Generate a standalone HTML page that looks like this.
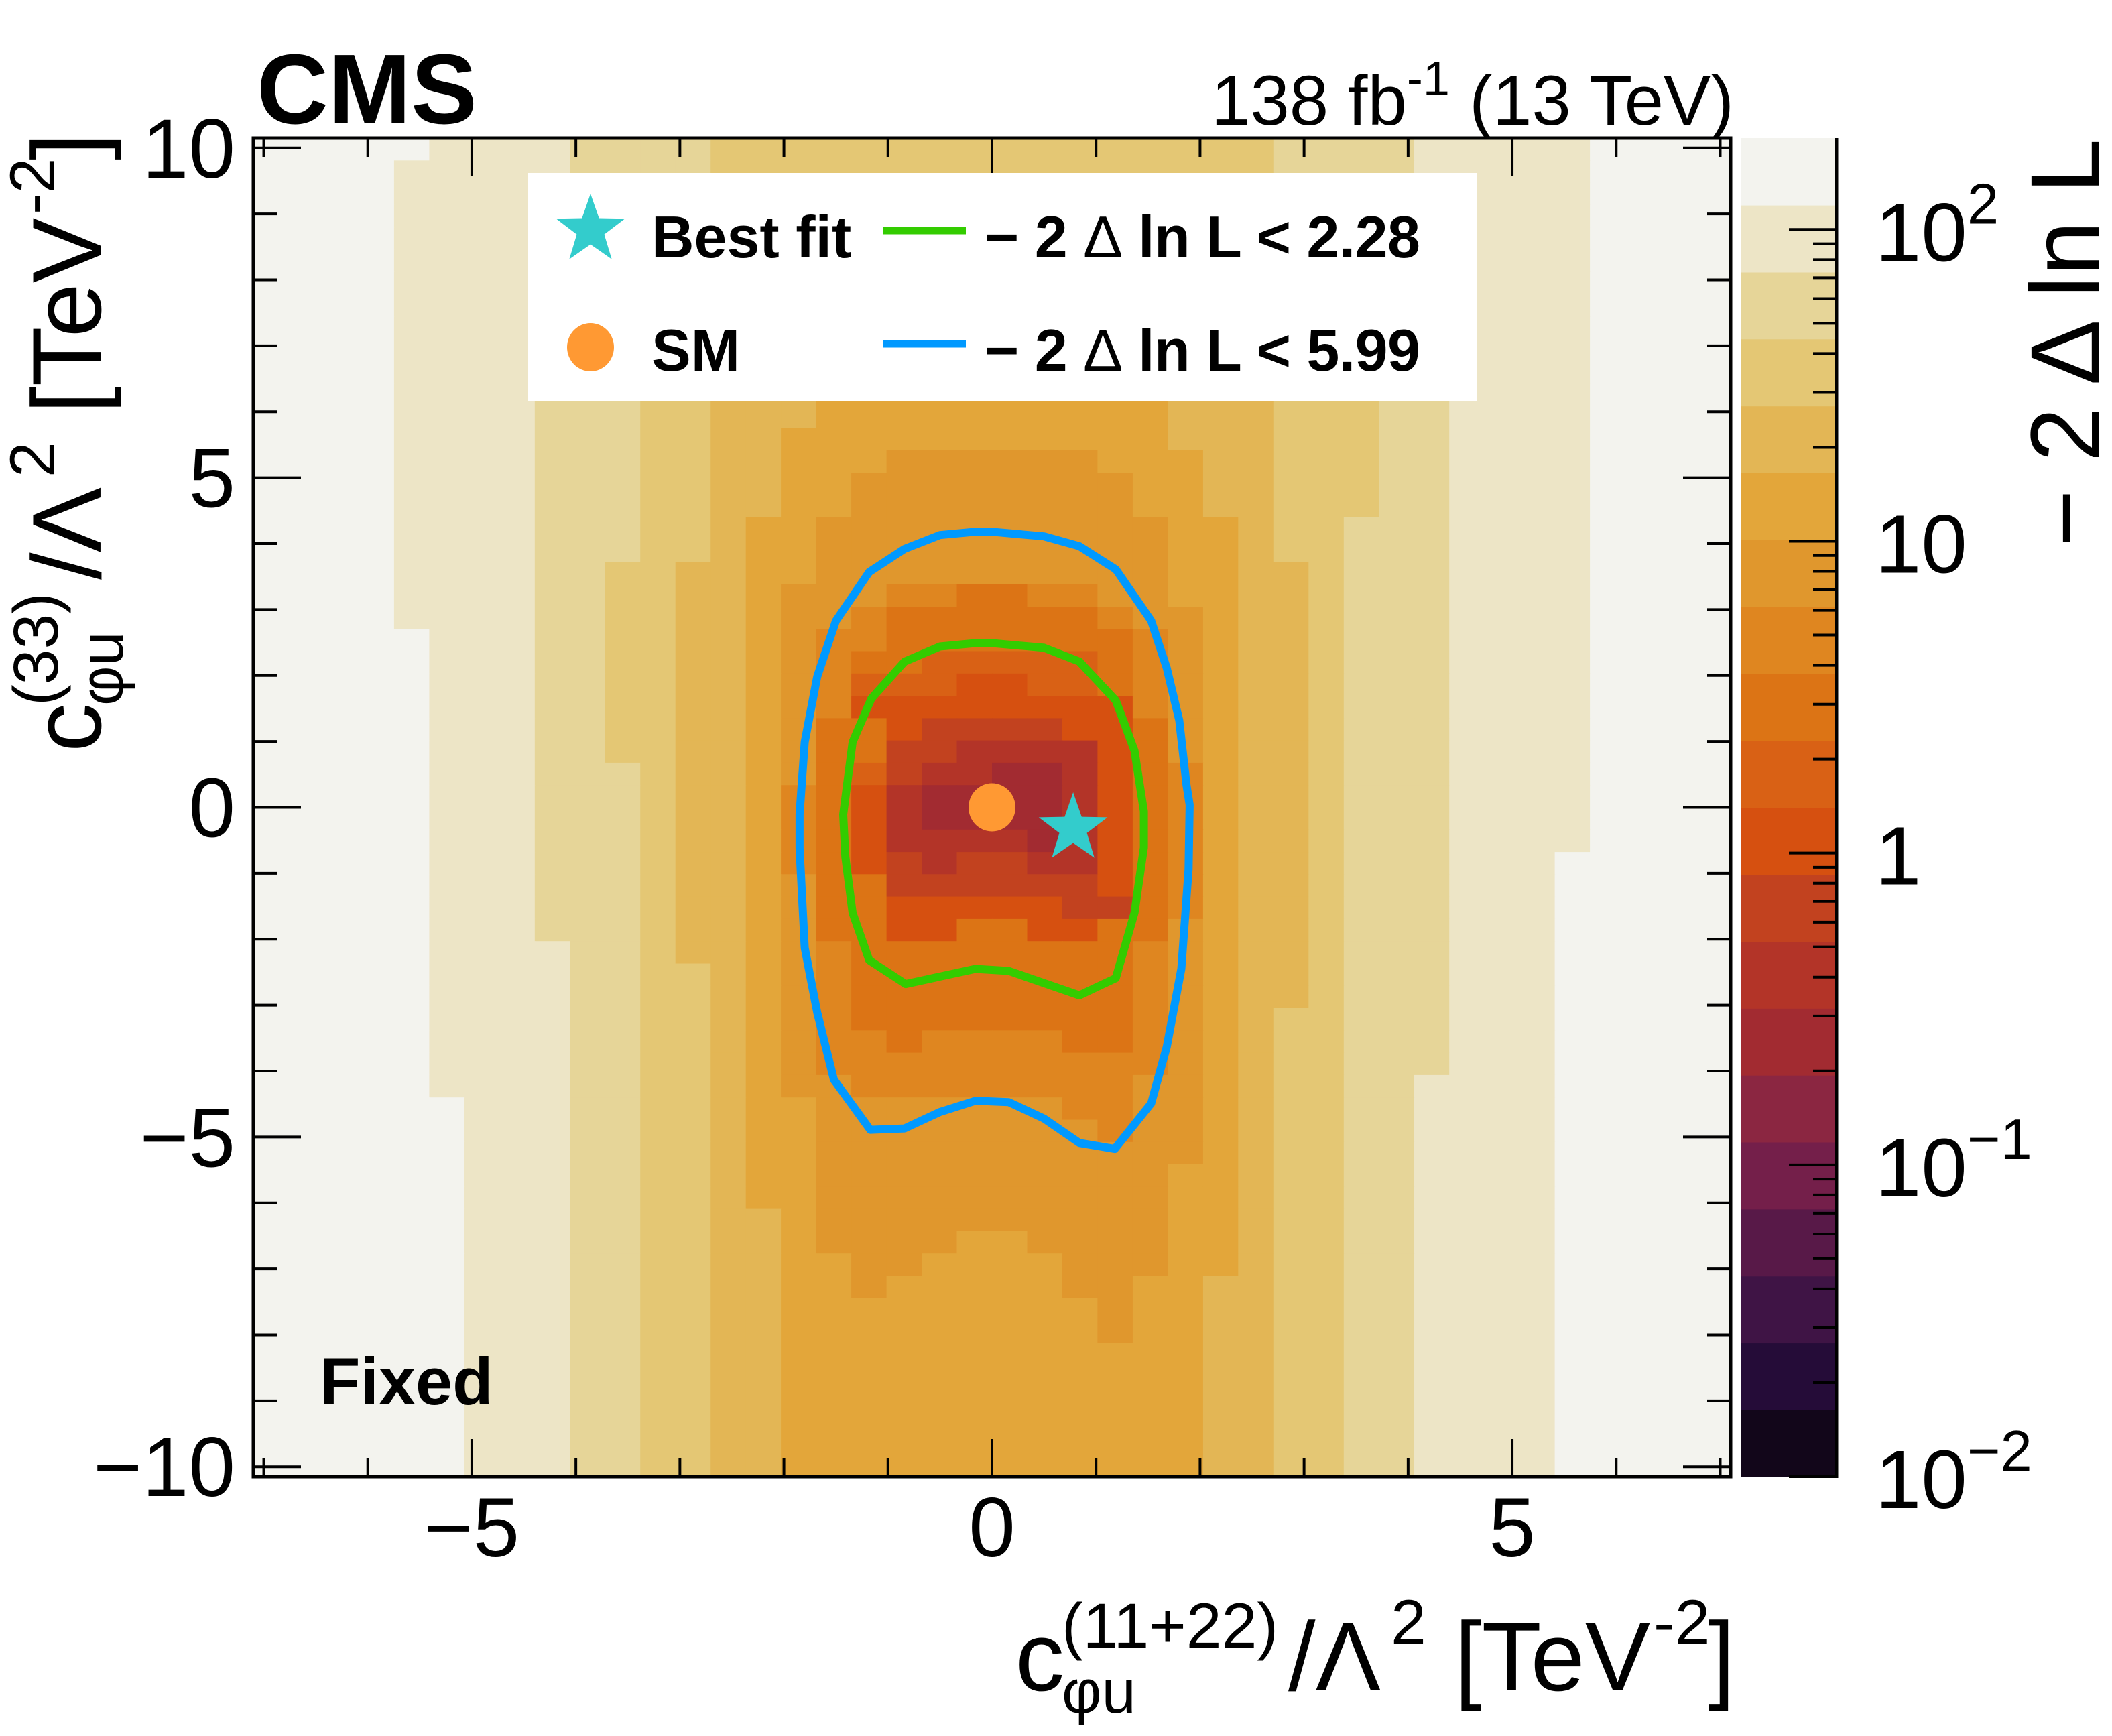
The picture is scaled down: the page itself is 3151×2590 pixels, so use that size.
<!DOCTYPE html>
<html><head><meta charset="utf-8">
<style>
html,body{margin:0;padding:0;background:#fff;}
svg{display:block;font-family:"Liberation Sans",Arial,sans-serif;}
</style></head>
<body>
<svg id="chart" xmlns="http://www.w3.org/2000/svg" width="3151" height="2590" viewBox="0 0 3151 2590">
  <rect x="0" y="0" width="3151" height="2590" fill="#ffffff"/>
  <g id="heat"></g>
  <g id="contours"></g>
  <g id="markers"></g>
  <g id="frame"></g>
  <g id="cbar"></g>

  <text x="383" y="184" font-size="148" font-weight="bold">CMS</text>
  <text x="2587" y="186" font-size="105" text-anchor="end">138 fb<tspan font-size="72" dy="-44">-1</tspan><tspan dy="44"> (13 TeV)</tspan></text>
  <text x="477" y="2095" font-size="99" font-weight="bold">Fixed</text>

  <!-- legend -->
  <g>
    <rect x="788" y="258" width="1416" height="341" fill="#ffffff"/>
    <g>
      <polygon id="legStar" fill="#33cccc"/>
      <text x="972" y="384" font-size="88" font-weight="bold">Best fit</text>
    </g>
    <g>
      <ellipse cx="881" cy="518" rx="35" ry="36" fill="#ff9933"/>
      <text x="972" y="553" font-size="88" font-weight="bold">SM</text>
    </g>
    <g>
      <line x1="1317" y1="344" x2="1441" y2="344" stroke="#33cc00" stroke-width="11"/>
      <text x="1469" y="384" font-size="88" font-weight="bold" textLength="650" lengthAdjust="spacing">− 2 <tspan font-weight="normal">Δ</tspan> ln L &lt; 2.28</text>
    </g>
    <g>
      <line x1="1317" y1="513" x2="1441" y2="513" stroke="#0099ff" stroke-width="11"/>
      <text x="1469" y="553" font-size="88" font-weight="bold" textLength="650" lengthAdjust="spacing">− 2 <tspan font-weight="normal">Δ</tspan> ln L &lt; 5.99</text>
    </g>
  </g>

  <!-- x axis title -->
  <g font-size="146">
    <text x="1515" y="2522">c</text>
    <text x="1584" y="2458" font-size="95">(11+22)</text>
    <text x="1584" y="2555" font-size="92">φu</text>
    <text x="1922" y="2522">/Λ</text>
    <text x="2075" y="2453" font-size="95">2</text>
    <text x="2170" y="2522">[TeV</text>
    <text x="2467" y="2453" font-size="95">-2</text>
    <text x="2548" y="2522">]</text>
  </g>
  <!-- y axis title -->
  <g font-size="146" transform="translate(150,1122) rotate(-90)">
    <text x="0" y="0">c</text>
    <text x="69" y="-64" font-size="95">(33)</text>
    <text x="69" y="33" font-size="92">φu</text>
    <text x="257" y="0">/Λ</text>
    <text x="410" y="-69" font-size="95">2</text>
    <text x="505" y="0">[TeV</text>
    <text x="802" y="-69" font-size="95">-2</text>
    <text x="883" y="0">]</text>
  </g>
  <!-- colorbar title -->
  <text transform="translate(3132,207) rotate(-90)" x="0" y="0" font-size="147" text-anchor="end">− 2 Δ ln L</text>
</svg>
<script>
// ---------- data ----------
const xRange = [-7.1, 7.1];
const yRange = [-10.15, 10.15];
const xTickMajor = [-5, 0, 5];
const xTickLabels = ["−5", "0", "5"];
const yTickMajor = [-10, -5, 0, 5, 10];
const yTickLabels = ["−10", "−5", "0", "5", "10"];
// -2 Delta lnL levels per cell (letter codes), rows from top (y high) to bottom
const levelCodes = ["W","A","B","C","D","E","F","G","H","N","I","J","K","L"];
const levelValues = [153, 93, 57, 35, 21, 13, 7.9, 4.8, 2.9, 1.8, 1.1, 0.67, 0.41, 0.25];
const gridRows = [
"WWWWWAAAABBBBCCCCCCCCCCCCCCCCBBBBAAAAAWWWW",
"WWWWAAAAABBBBCCCCCCCCCCCCCCCCBBBBAAAAAWWWW",
"WWWWAAAAABBBBCCCCCCCCCCCCCCCCBBBBAAAAAWWWW",
"WWWWAAAABBBBCCCDDDDDDDDDDDDCCCBBBBAAAAWWWW",
"WWWWAAAABBBBCCCDDDDDDDDDDDDCCCBBBBAAAAWWWW",
"WWWWAAAABBBBCCCDDDDDDDDDDDDCCCBBBBAAAAWWWW",
"WWWWAAAABBBCCCDDDEEEEEEEEDDDCCCBBBAAAAWWWW",
"WWWWAAAABBBCCCDDDEEEEEEEEDDDCCCBBBAAAAWWWW",
"WWWWAAAABBBCCCDDDEEEEEEEEDDDCCCBBBAAAAWWWW",
"WWWWAAAABBBCCCDDDEEEEEEEEDDDCCCBBBAAAAWWWW",
"WWWWAAAABBBCCDDDEEEEEEEEEEDDDCCCBBAAAAWWWW",
"WWWWAAAABBBCCDDDEEEEEEEEEEDDDCCCBBAAAAWWWW",
"WWWWAAAABBBCCDDDEEEEEEEEEEDDDCCCBBAAAAWWWW",
"WWWWAAAABBBCCDDEEEEEEEEEEEDDDCCCBBAAAAWWWW",
"WWWWAAAABBBCCDDEEEFFFFFFEEEDDCCCBBAAAAWWWW",
"WWWWAAAABBBCCDDEEFFFFFFFFEEDDCCCBBAAAAWWWW",
"WWWWAAAABBBCCDDEEFFFFFFFFEEDDCCCBBAAAAWWWW",
"WWWWAAAABBBCCDEEFFFFFFFFFFEEDCCBBBAAAAWWWW",
"WWWWAAAABBBCCDEEFFFFFFFFFFEEDCCBBBAAAAWWWW",
"WWWWAAAABBCCDDEEFFFFFFFFFFEEDDCBBBAAAAWWWW",
"WWWWAAAABBCCDD"+"EFFFGGHHGGFFEE"+"DDCBBBAAAAWWWW",
"WWWWAAAABBCCDD"+"EFFGHHHHHHGFFE"+"DDCBBBAAAAWWWW",
"WWWWWAAABBCCDD"+"EFGGHHHHHHHGFE"+"DDCBBBAAAAWWWW",
"WWWWWAAABBCCDD"+"EFGHHNNNNNHGFE"+"DDCBBBAAAAWWWW",
"WWWWWAAABBCCDD"+"EFGNNNIINNHGFE"+"DDCBBBAAAAWWWW",
"WWWWWAAABBCCDD"+"EFGIIIIIIIIGFE"+"DDCBBBAAAAWWWW",
"WWWWWAAABBCCDD"+"EFHHIJJJJIIHFE"+"DDCBBBAAAAWWWW",
"WWWWWAAABBCCDD"+"EFHHJJKKKKIHFE"+"DDCBBBAAAAWWWW",
"WWWWWAAABBBCDD"+"EFHNJKKLLKIHGE"+"DDCBBBAAAAWWWW",
"WWWWWAAABBBCDD"+"EGHIKLLLLKIHGE"+"DDCBBBAAAAWWWW",
"WWWWWAAABBBCDD"+"EGHIKLLLLKIHGE"+"DDCBBBAAAAWWWW",
"WWWWWAAABBBCDD"+"EGHIKKKKLKIHGE"+"DDCBBBAAAAWWWW",
"WWWWWAAABBBCDD"+"EGHIJKJJKKIHGE"+"DDCBBBAAAWWWWW",
"WWWWWAAABBBCDD"+"EFHHJJJJJJIHGE"+"DDCBBBAAAWWWWW",
"WWWWWAAABBBCDD"+"EFHHIIIIIJJHGE"+"DDCBBBAAAWWWWW",
"WWWWWAAABBBCDD"+"EFHHIIHHIIHHFE"+"DDCBBBAAAWWWWW",
"WWWWWAAAABBCDD"+"EFGHHHHHHHHGFE"+"DDCBBBAAAWWWWW",
"WWWWWAAAABBCCD"+"EFGHHHHHHHHGFE"+"DDCBBBAAAWWWWW",
"WWWWWAAAABBCCD"+"EFGHHHHHHHHGFE"+"DDCBBBAAAWWWWW",
"WWWWWAAAABBCCD"+"EFGHHHHHHHHGFE"+"DCCBBBAAAWWWWW",
"WWWWWAAAABBCCD"+"EFGGHGGGGHHGFE"+"DCCBBBAAAWWWWW",
"WWWWWAAAABBCCD"+"EFGGGGGGGGGGFE"+"DCCBBBAAAWWWWW",
"WWWWWAAAABBCCD"+"EFFGGGGGGGGFFE"+"DCCBBAAAAWWWWW",
"WWWWWWAAABBCCD"+"EEFFFFFFFGGFFE"+"DCCBBAAAAWWWWW",
"WWWWWWAAABBCCD"+"EEFFFFFFFFGFFE"+"DCCBBAAAAWWWWW",
"WWWWWWAAABBCCD"+"EEFFFFFFFFFFFE"+"DCCBBAAAAWWWWW",
"WWWWWWAAABBCCD"+"EEFFFFFFFFFFEE"+"DCCBBAAAAWWWWW",
"WWWWWWAAABBCCD"+"EEFFFFFFFFFFEE"+"DCCBBAAAAWWWWW",
"WWWWWWAAABBCCD"+"DEFFFFFFFFFFEE"+"DCCBBAAAAWWWWW",
"WWWWWWAAABBCCD"+"DEFFFFEEFFFFEE"+"DCCBBAAAAWWWWW",
"WWWWWWAAABBCCD"+"DEEFFEEEEFFFEE"+"DCCBBAAAAWWWWW",
"WWWWWWAAABBCCD"+"DEEFEEE"+"EEFFEE"+"DDCCBBAAAAWWWWW",
"WWWWWWAAABBCCD"+"DEEEEEE"+"EEEFEE"+"DDCCBBAAAAWWWWW",
"WWWWWWAAABBCCD"+"DEEEEEE"+"EEEFEE"+"DDCCBBAAAAWWWWW",
"WWWWWWAAABBCCD"+"DEEEEEE"+"EEEEEE"+"DDCCBBAAAAWWWWW",
"WWWWWWAAABBCCD"+"DEEEEEE"+"EEEEEE"+"DDCCBBAAAAWWWWW",
"WWWWWWAAABBCCD"+"DEEEEEE"+"EEEEEE"+"DDCCBBAAAAWWWWW",
"WWWWWWAAABBCCD"+"DEEEEEE"+"EEEEEE"+"DDCCBBAAAAWWWWW",
"WWWWWWAAABBCCD"+"DEEEEEE"+"EEEEEE"+"DDCCBBAAAAWWWWW",
"WWWWWWAAABBCCD"+"DEEEEEE"+"EEEEEE"+"DDCCBBAAAAWWWWW"
];
// contours (x, y) in TeV^-2
const contour68X = [0.0,0.50,0.84,1.19,1.37,1.46,1.46,1.37,1.19,0.84,0.16,-0.16,-0.83,-1.18,-1.34,-1.41,-1.43,-1.34,-1.16,-0.84,-0.50,-0.16];
const contour68Y = [2.49,2.42,2.21,1.62,0.86,-0.06,-0.61,-1.60,-2.59,-2.85,-2.48,-2.45,-2.68,-2.32,-1.60,-0.75,-0.11,0.99,1.65,2.21,2.44,2.49];
const contour95X = [0.0,0.50,0.84,1.19,1.53,1.68,1.80,1.87,1.90,1.89,1.82,1.68,1.53,1.18,0.84,0.50,0.16,-0.16,-0.50,-0.84,-1.17,-1.52,-1.68,-1.80,-1.85,-1.85,-1.80,-1.68,-1.50,-1.18,-0.84,-0.50,-0.16];
const contour95Y = [4.18,4.11,3.96,3.61,2.83,2.11,1.32,0.34,0.04,-0.94,-2.45,-3.63,-4.49,-5.18,-5.09,-4.72,-4.47,-4.45,-4.62,-4.87,-4.89,-4.13,-3.11,-2.13,-0.62,-0.11,0.99,1.98,2.83,3.57,3.92,4.13,4.18];
const bestFit = [0.78, -0.28];
const smPoint = [0.0, 0.0];
// colour scale
const zLogRange = [-2, 2.293];
const bandColors = ["#12061a","#250c38","#3f1445","#581948","#741f4a","#8b2641","#a22b31","#b33428","#c2421f","#d65010","#d96115","#dc7415","#df8620","#e0972d","#e3a63a","#e3b655","#e4c774","#e6d598","#ede5c6","#f3f3ee"];
const cbarMajor = [0.01, 0.1, 1, 10, 100];
const cbarLabelBase = ["10","10","1","10","10"];
const cbarLabelExp = ["−2","−1","","","2"];

// ---------- layout ----------
const NS = "http://www.w3.org/2000/svg";
const X0 = 378, X1 = 2582, Y0 = 206, Y1 = 2203;
const CB0 = 2597, CB1 = 2740;
function sx(v){ return X0 + (v - xRange[0]) / (xRange[1] - xRange[0]) * (X1 - X0); }
function sy(v){ return Y1 - (v - yRange[0]) / (yRange[1] - yRange[0]) * (Y1 - Y0); }
function zpos(v){ return Y1 - (Math.log10(v) - zLogRange[0]) / (zLogRange[1] - zLogRange[0]) * (Y1 - Y0); }
function zcolor(v){
  let b = Math.floor((Math.log10(v) - zLogRange[0]) / (zLogRange[1] - zLogRange[0]) * bandColors.length);
  b = Math.max(0, Math.min(bandColors.length - 1, b));
  return bandColors[b];
}
function mk(tag, attrs, parent){
  const e = document.createElementNS(NS, tag);
  for (const k in attrs) e.setAttribute(k, attrs[k]);
  parent.appendChild(e);
  return e;
}

// heatmap
const heat = document.getElementById("heat");
const nRows = gridRows.length, nCols = 42;
const dx = (xRange[1] - xRange[0]) / nCols, dy = (yRange[1] - yRange[0]) / nRows;
for (let r = 0; r < nRows; r++){
  for (let c = 0; c < nCols; c++){
    const code = gridRows[r][c] || "W";
    const val = levelValues[levelCodes.indexOf(code)];
    const xa = sx(xRange[0] + c*dx), xb = sx(xRange[0] + (c+1)*dx);
    const ya = sy(yRange[1] - r*dy), yb = sy(yRange[1] - (r+1)*dy);
    const rc = mk("rect", {x: xa.toFixed(1), y: ya.toFixed(1), width: (xb - xa + 0.8).toFixed(1), height: (yb - ya + 0.8).toFixed(1), fill: zcolor(val)}, heat);
    
    
  }
}

// contours
const cont = document.getElementById("contours");
function drawContour(xs, ys, color, name){
  let d = "";
  for (let i = 0; i < xs.length; i++) d += (i ? "L" : "M") + sx(xs[i]).toFixed(1) + "," + sy(ys[i]).toFixed(1);
  d += "Z";
  const p = mk("path", {d: d, fill: "none", stroke: color, "stroke-width": 12, "stroke-linejoin": "round"}, cont);
  
  
}
drawContour(contour95X, contour95Y, "#0099ff", "contour-95cl");
drawContour(contour68X, contour68Y, "#33cc00", "contour-68cl");

// markers
function starPts(cx, cy, R){
  const r = R * 0.4; let pts = [];
  for (let i = 0; i < 10; i++){
    const a = -Math.PI/2 + i*Math.PI/5, rr = (i % 2) ? r : R;
    pts.push((cx + rr*Math.cos(a)).toFixed(1) + "," + (cy + rr*Math.sin(a)).toFixed(1));
  }
  return pts.join(" ");
}
const mkG = document.getElementById("markers");
const smDot = mk("ellipse", {cx: sx(smPoint[0]), cy: sy(smPoint[1]), rx: 35, ry: 36, fill: "#ff9933"}, mkG);


const bfStar = mk("polygon", {points: starPts(sx(bestFit[0]), sy(bestFit[1]) + 4, 54), fill: "#33cccc"}, mkG);


document.getElementById("legStar").setAttribute("points", starPts(881, 343, 54));

// frame and ticks
const fr = document.getElementById("frame");
const box = mk("rect", {x: X0, y: Y0, width: X1 - X0, height: Y1 - Y0, fill: "none", stroke: "#000", "stroke-width": 5}, fr);


for (let v = -7; v <= 7; v++){
  const maj = xTickMajor.indexOf(v) >= 0, L = maj ? 56 : 28, x = sx(v);
  const t1 = mk("line", {x1: x, y1: Y1, x2: x, y2: Y1 - L, stroke: "#000", "stroke-width": 4}, fr);
  
  
  const t2 = mk("line", {x1: x, y1: Y0, x2: x, y2: Y0 + L, stroke: "#000", "stroke-width": 4}, fr);
  
  
}
for (let v = -10; v <= 10; v++){
  const maj = yTickMajor.indexOf(v) >= 0, L = maj ? 71 : 35, y = sy(v);
  const t1 = mk("line", {x1: X0, y1: y, x2: X0 + L, y2: y, stroke: "#000", "stroke-width": 4}, fr);
  
  
  const t2 = mk("line", {x1: X1, y1: y, x2: X1 - L, y2: y, stroke: "#000", "stroke-width": 4}, fr);
  
  
}
xTickMajor.forEach((v, i) => {
  const t = mk("text", {x: sx(v), y: 2322, "font-size": 125, "text-anchor": "middle"}, fr);
  t.textContent = xTickLabels[i];
  
  
});
yTickMajor.forEach((v, i) => {
  const t = mk("text", {x: 351, y: sy(v) + 44, "font-size": 125, "text-anchor": "end"}, fr);
  t.textContent = yTickLabels[i];
  
  
});

// colour bar
const cb = document.getElementById("cbar");
for (let b = 0; b < bandColors.length; b++){
  const ya = Y1 - (b+1) * (Y1 - Y0) / bandColors.length, yb = Y1 - b * (Y1 - Y0) / bandColors.length;
  const r = mk("rect", {x: CB0, y: ya.toFixed(1), width: CB1 - CB0, height: (yb - ya + 0.8).toFixed(1), fill: bandColors[b]}, cb);
  
  
}
const cbl = mk("line", {x1: CB1, y1: Y0, x2: CB1, y2: Y1 + 2, stroke: "#000", "stroke-width": 5}, cb);


for (let e = -2; e <= 2; e++){
  for (let m = 1; m <= 9; m++){
    const v = m * Math.pow(10, e);
    if (Math.log10(v) > zLogRange[1] + 1e-9) continue;
    const y = zpos(v), L = (m === 1) ? 71 : 35;
    const t = mk("line", {x1: CB1, y1: y, x2: CB1 - L, y2: y, stroke: "#000", "stroke-width": 4}, cb);
    
    
  }
}
cbarMajor.forEach((v, i) => {
  const t = mk("text", {x: 2798, y: zpos(v) + 47, "font-size": 123}, cb);
  t.textContent = cbarLabelBase[i];
  if (cbarLabelExp[i]){
    const s = mk("tspan", {"font-size": 85, dy: -56}, t);
    s.textContent = cbarLabelExp[i];
  }
  
  
});
</script>
</body></html>
